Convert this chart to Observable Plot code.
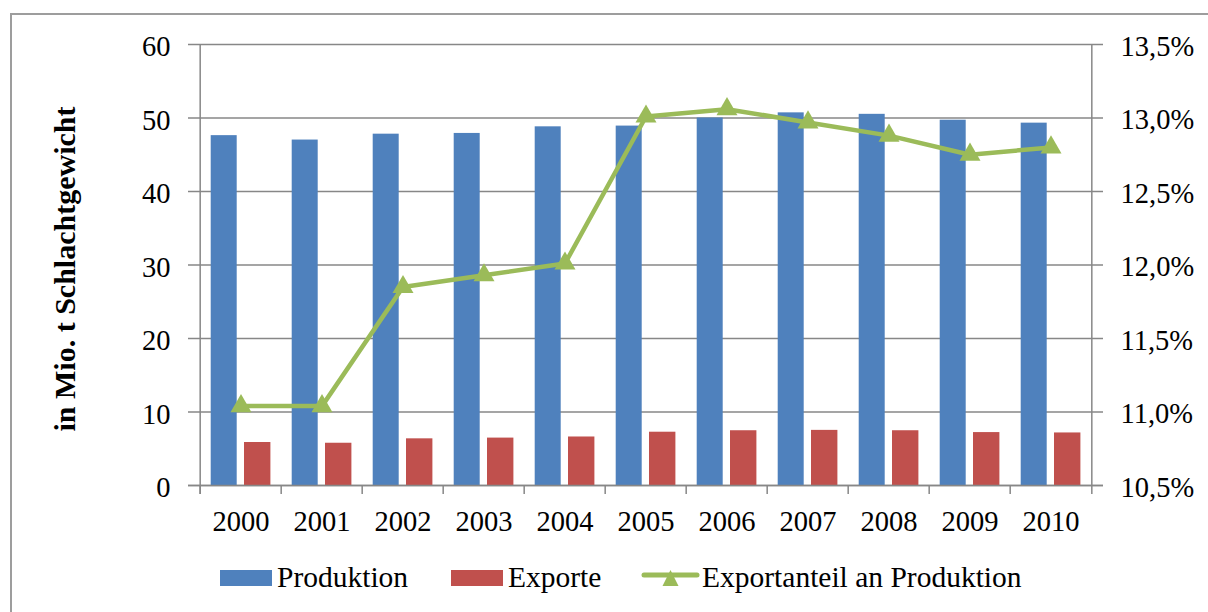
<!DOCTYPE html>
<html>
<head>
<meta charset="utf-8">
<script src="https://cdn.jsdelivr.net/npm/d3@7"></script>
<script src="https://cdn.jsdelivr.net/npm/@observablehq/plot@0.6"></script>
<style>
  body { margin: 0; background: #ffffff; }
  #wrap { position: relative; width: 1208px; height: 612px; overflow: hidden;
          font-family: "Liberation Serif", "Times New Roman", serif; color: #000; }
  #border { position: absolute; left: 10px; top: 13px; width: 1400px; height: 800px;
            border-left: 2px solid #9d9d9d; border-top: 2px solid #9d9d9d; }
  #chart { position: absolute; left: 0; top: 0; }
  #ytitle { position: absolute; left: 65px; top: 269px; white-space: nowrap;
            font-weight: bold; font-size: 30px;
            transform: translate(-50%, -50%) rotate(-90deg); }
  .lg { position: absolute; }
  .lgtext { position: absolute; font-size: 29.5px; line-height: 28px; white-space: nowrap; }
</style>
</head>
<body>
<div id="wrap">
  <div id="border"></div>
  <div id="chart"></div>
  <div id="ytitle">in Mio. t Schlachtgewicht</div>
  <div id="legend"></div>
</div>
<script>
// ---- data ----
const years = ["2000","2001","2002","2003","2004","2005","2006","2007","2008","2009","2010"];
const produktion = [47.6, 47.0, 47.8, 47.9, 48.8, 48.9, 50.0, 50.7, 50.5, 49.7, 49.3];
const exporte = [5.85, 5.75, 6.35, 6.45, 6.6, 7.25, 7.45, 7.5, 7.45, 7.2, 7.15];
const anteil = [11.04, 11.04, 11.85, 11.93, 12.01, 13.01, 13.06, 12.97, 12.88, 12.75, 12.80];
const yTicks = [0, 10, 20, 30, 40, 50, 60];
const seriesNames = ["Produktion", "Exporte", "Exportanteil an Produktion"];
const colors = ["#4F81BD", "#C0504D", "#9BBB59"];

// right axis: 10,5 % … 13,5 % mapped onto the left 0 … 60 scale
const pctMin = 10.5, pctMax = 13.5;
const toLeft = p => (p - pctMin) / (pctMax - pctMin) * 60;
const fmtPct = v => (v / 60 * (pctMax - pctMin) + pctMin).toFixed(1).replace(".", ",") + "%";

const rows = years.map((y, i) => ({year: y, prod: produktion[i], exp: exporte[i], share: anteil[i]}));

const W = 1208, H = 612, mL = 196, mR = 114, mT = 44, mB = 127;
const bw = (W - mL - mR) / years.length;
const grid = "#878787";
const serif = '"Liberation Serif", "Times New Roman", serif';

const chart = Plot.plot({
  width: W, height: H,
  marginLeft: mL, marginRight: mR, marginTop: mT, marginBottom: mB,
  style: {fontFamily: serif, fontSize: "28.5px", color: "#000", background: "transparent", overflow: "visible"},
  x: {type: "band", domain: years, padding: 0, label: null},
  y: {domain: [0, 60], label: null},
  marks: [
    Plot.ruleY(yTicks, {stroke: grid, strokeWidth: 1.5, insetLeft: -8, insetRight: -9}),
    Plot.barY(rows, {x: "year", y: "prod", fill: colors[0], insetLeft: 10.7, insetRight: 44.3}),
    Plot.barY(rows, {x: "year", y: "exp", fill: colors[1], insetLeft: 44, insetRight: 10.6}),
    Plot.ruleY([0], {stroke: grid, strokeWidth: 1.5, insetLeft: -8, insetRight: -9}),
    Plot.ruleX([years[0]], {stroke: grid, strokeWidth: 1.5, dx: -bw / 2, insetBottom: -9}),
    Plot.ruleX([years[years.length - 1]], {stroke: grid, strokeWidth: 1.5, dx: bw / 2, insetBottom: -9}),
    Plot.axisX({tickSize: 9, fill: "none", stroke: grid, strokeWidth: 1.5, dx: -bw / 2, label: null}),
    Plot.axisX({tickSize: 0, tickPadding: 25, fill: "#000", fontSize: 28.5, label: null}),
    Plot.axisY(yTicks, {anchor: "left", tickSize: 0, tickPadding: 26, fill: "#000", dy: 2.5, fontSize: 28.5, label: null}),
    Plot.axisY(yTicks, {anchor: "right", tickSize: 0, tickPadding: 26, fill: "#000", dy: 2, fontSize: 28.5, tickFormat: fmtPct, label: null}),
    Plot.line(rows, {x: "year", y: d => toLeft(d.share), stroke: colors[2], strokeWidth: 4.5}),
    Plot.dot(rows, {x: "year", y: d => toLeft(d.share), symbol: "triangle", r: 7.8, fill: colors[2], stroke: "none"})
  ]
});
document.getElementById("chart").appendChild(chart);

// ---- legend (HTML, below the plot area) ----
const lg = document.getElementById("legend");
const items = [
  {kind: "rect", sx: 220, tx: 277},
  {kind: "rect", sx: 451, tx: 508},
  {kind: "line", sx: 643, tx: 702}
];
items.forEach((it, i) => {
  if (it.kind === "rect") {
    const s = document.createElement("div");
    s.className = "lg";
    Object.assign(s.style, {left: it.sx + "px", top: "570px", width: "52px", height: "16px", background: colors[i]});
    lg.appendChild(s);
  } else {
    const ns = "http://www.w3.org/2000/svg";
    const svg = document.createElementNS(ns, "svg");
    svg.setAttribute("width", "60"); svg.setAttribute("height", "24");
    svg.style.position = "absolute"; svg.style.left = (it.sx - 2) + "px"; svg.style.top = "566px";
    const ln = document.createElementNS(ns, "line");
    ln.setAttribute("x1", 3); ln.setAttribute("x2", 56); ln.setAttribute("y1", 9); ln.setAttribute("y2", 9);
    ln.setAttribute("stroke", colors[i]); ln.setAttribute("stroke-width", 5); ln.setAttribute("stroke-linecap", "round");
    svg.appendChild(ln);
    const tri = document.createElementNS(ns, "path");
    tri.setAttribute("d", "M29.5,4 L37.5,20 L21.5,20 Z");
    tri.setAttribute("fill", colors[i]);
    svg.appendChild(tri);
    lg.appendChild(svg);
  }
  const t = document.createElement("div");
  t.className = "lgtext";
  t.textContent = seriesNames[i];
  Object.assign(t.style, {left: it.tx + "px", top: "563px"});
  lg.appendChild(t);
});
</script>
</body>
</html>
